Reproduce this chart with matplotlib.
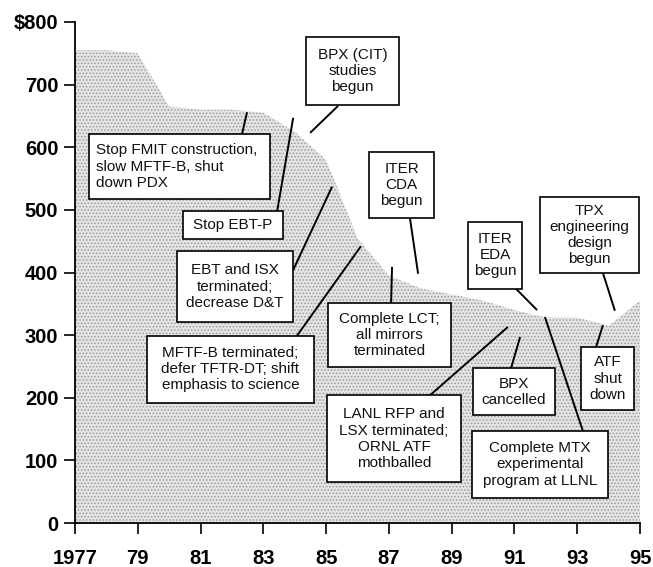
import matplotlib
matplotlib.use("Agg")
import matplotlib.pyplot as plt
from matplotlib.patches import Rectangle

plt.rcParams['font.family'] = ['Liberation Sans', 'DejaVu Sans']
plt.rcParams['hatch.linewidth'] = 0.7

# Fusion budget (millions of dollars), read from the shaded area
years = [1977, 1978, 1979, 1980, 1981, 1982, 1983, 1984, 1985, 1986,
         1987, 1988, 1989, 1990, 1991, 1992, 1993, 1994, 1995]
budget = [755, 755, 750, 665, 660, 660, 655, 625, 580, 455,
          395, 375, 365, 355, 340, 328, 328, 315, 355]

y_ticks = [0, 100, 200, 300, 400, 500, 600, 700, 800]
y_tick_labels = ['0', '100', '200', '300', '400', '500', '600', '700', '$800']
x_ticks = [1977, 1979, 1981, 1983, 1985, 1987, 1989, 1991, 1993, 1995]
x_tick_labels = ['1977', '79', '81', '83', '85', '87', '89', '91', '93', '95']

# Event annotations: text, box (x0, x1, y0, y1), leader line (x_box, y_box, x_end, y_end), alignment
events = [
    ("BPX (CIT)\nstudies\nbegun", (1984.36, 1987.32, 667, 776), (1985.38, 666, 1984.49, 623), 'center'),
    ("Stop FMIT construction,\nslow MFTF-B, shut\ndown PDX", (1977.45, 1983.21, 517, 621), (1982.32, 621, 1982.48, 656), 'left'),
    ("Stop EBT-P", (1980.44, 1983.63, 453, 498), (1983.44, 498, 1983.95, 647), 'center'),
    ("EBT and ISX\nterminated;\ndecrease D&T", (1980.25, 1983.95, 321, 434), (1983.95, 404, 1985.19, 537), 'center'),
    ("MFTF-B terminated;\ndefer TFTR-DT; shift\nemphasis to science", (1979.29, 1984.61, 192, 299), (1984.07, 299, 1986.11, 442), 'center'),
    ("Complete LCT;\nall mirrors\nterminated", (1985.06, 1988.98, 249, 351), (1987.07, 351, 1987.10, 409), 'center'),
    ("ITER\nCDA\nbegun", (1986.37, 1988.44, 487, 592), (1987.67, 487, 1987.93, 398), 'center'),
    ("LANL RFP and\nLSX terminated;\nORNL ATF\nmothballed", (1985.03, 1989.30, 65, 204), (1988.31, 204, 1990.79, 313), 'center'),
    ("BPX\ncancelled", (1989.68, 1992.29, 172, 247), (1990.89, 247, 1991.18, 297), 'center'),
    ("ITER\nEDA\nbegun", (1989.52, 1991.24, 374, 481), (1991.05, 374, 1991.72, 340), 'center'),
    ("Complete MTX\nexperimental\nprogram at LLNL", (1989.65, 1993.98, 40, 147), (1993.18, 147, 1991.97, 329), 'center'),
    ("TPX\nengineering\ndesign\nbegun", (1991.81, 1994.97, 399, 521), (1993.82, 399, 1994.20, 339), 'center'),
    ("ATF\nshut\ndown", (1993.12, 1994.81, 180, 281), (1993.60, 281, 1993.82, 316), 'center'),
]

fig = plt.figure(figsize=(6.53, 5.67), dpi=100)
ax = fig.add_axes([0.1149, 0.0776, 0.8652, 0.8836])

ax.fill_between(years, 0, budget, facecolor='#e4e4e4', edgecolor='#9a9a9a',
                hatch='.....', linewidth=0, zorder=1)

for text, (x0, x1, y0, y1), (lx0, ly0, lx1, ly1), ha in events:
    ax.plot([lx0, lx1], [ly0, ly1], color='black', lw=1.4, zorder=3,
            solid_capstyle='butt')
    ax.add_patch(Rectangle((x0, y0), x1 - x0, y1 - y0, facecolor='white',
                           edgecolor='black', lw=1.2, zorder=4))
    if ha == 'left':
        tx = x0 + 0.22
    else:
        tx = (x0 + x1) / 2
    ax.text(tx, (y0 + y1) / 2, text, ha=ha, va='center', fontsize=11,
            multialignment=ha, linespacing=1.2, zorder=5, color='#111111')

ax.set_xlim(1977, 1995)
ax.set_ylim(0, 800)
ax.set_xticks(x_ticks)
ax.set_xticklabels(x_tick_labels)
ax.set_yticks(y_ticks)
ax.set_yticklabels(y_tick_labels)

for s in ['top', 'right']:
    ax.spines[s].set_visible(False)
ax.spines['left'].set_linewidth(1.3)
ax.spines['bottom'].set_linewidth(1.3)
ax.tick_params(axis='both', direction='out', length=8, width=1.2,
               labelsize=14.5, colors='black')
ax.tick_params(axis='x', pad=11)
ax.tick_params(axis='y', pad=4)
for lab in ax.get_xticklabels() + ax.get_yticklabels():
    lab.set_fontweight('bold')

fig.savefig('out.png', dpi=100)
